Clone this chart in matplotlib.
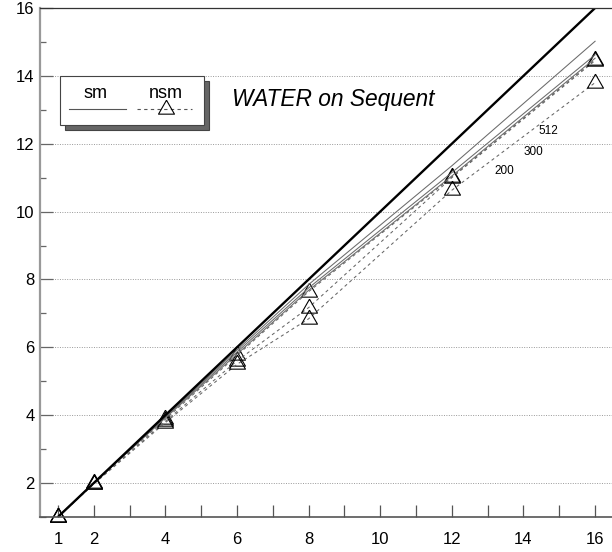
import matplotlib
matplotlib.use("Agg")
import matplotlib.pyplot as plt
from matplotlib.patches import Rectangle
from matplotlib.lines import Line2D

plt.rcParams['font.family'] = ['Liberation Sans', 'DejaVu Sans']

# Speedup of WATER on the Sequent, by number of processors
procs = [1, 2, 4, 6, 8, 12, 16]
ideal = [1, 16]

sm_512 = [1, 2, 3.96, 5.92, 7.85, 11.35, 15.02]
sm_300 = [1, 2, 3.94, 5.86, 7.75, 11.15, 14.62]
sm_200 = [1, 2, 3.92, 5.80, 7.68, 11.05, 14.52]

nsm_512 = [1, 2, 3.88, 5.76, 7.64, 11.02, 14.48]
nsm_300 = [1, 1.98, 3.82, 5.60, 7.17, 11.00, 14.45]
nsm_200 = [1, 1.97, 3.78, 5.50, 6.84, 10.63, 13.80]

size_labels = ["512", "300", "200"]
size_label_pos = [(14.69, 12.38), (14.27, 11.76), (13.46, 11.2)]

xtick_labels = [1, 2, 4, 6, 8, 10, 12, 14, 16]
ytick_labels = [2, 4, 6, 8, 10, 12, 14, 16]

W, H = 612, 552
fig = plt.figure(figsize=(W / 100, H / 100), dpi=100)
ax = fig.add_axes([40 / W, 1 - 517 / H, 573 / W, 509 / H])
ax.set_xlim(0.5, 16.5)
ax.set_ylim(1, 16)

# triangle whose origin sits at its centroid
tri = [(0, 9.33), (-8, -4.67), (8, -4.67), (0, 9.33)]
mk = dict(marker=tri, markersize=13.4, markerfacecolor='none',
          markeredgecolor='black', markeredgewidth=0.8)

for ys in (nsm_512, nsm_300, nsm_200):
    ax.plot(procs, ys, color='#666666', lw=0.75, ls=(0, (3, 3)),
            clip_on=False, **mk)
for ys in (sm_512, sm_300, sm_200):
    ax.plot(procs, ys, color='#6a6a6a', lw=0.75, ls='-')

ax.plot(ideal, ideal, color='black', lw=1.7, solid_capstyle='butt')

for lab, (x, y) in zip(size_labels, size_label_pos):
    ax.text(x, y, lab, fontsize=8.5, ha='center', va='center')

ax.text(5.86, 13.29, "WATER on Sequent", fontsize=16.4, style='italic',
        ha='left', va='center')

# grid
for y in ytick_labels[:-1]:
    ax.axhline(y, color='#999999', lw=0.7, ls=(0, (1, 1.5)), zorder=0)

# ticks
ax.set_xticks(range(1, 17), minor=True)
ax.set_xticks(xtick_labels)
ax.set_xticklabels([str(v) for v in xtick_labels])
ax.set_yticks(ytick_labels)
ax.set_yticklabels([str(v) for v in ytick_labels])
ax.set_yticks(range(1, 17), minor=True)
ax.tick_params(axis='x', which='both', direction='in', length=8.6,
               width=0.9, color='#555555', labelsize=12, pad=10.5)
ax.tick_params(axis='y', which='major', direction='in', length=9.4,
               width=0.9, color='#666666', labelsize=12, pad=4)
ax.tick_params(axis='y', which='minor', direction='in', length=4.3,
               width=0.9, color='#666666')

ax.spines['right'].set_visible(False)
ax.spines['top'].set_color('#333333')
ax.spines['top'].set_linewidth(0.9)
ax.spines['left'].set_color('#999999')
ax.spines['left'].set_linewidth(1.6)
ax.spines['bottom'].set_color('#555555')
ax.spines['bottom'].set_linewidth(1.2)

# legend box with drop shadow (positions in axes fractions)
AW, AH = 573, 509


def fx(px):
    return (px - 40) / AW


def fy(py):
    return (517 - py) / AH


bx0, bx1 = fx(60), fx(204)
by0, by1 = fy(125), fy(76)
dx, dy = 5 / AW, -5 / AH
ax.add_patch(Rectangle((bx0 + dx, by0 + dy), bx1 - bx0, by1 - by0,
                       transform=ax.transAxes, facecolor='#666666',
                       edgecolor='#444444', lw=0.8, zorder=5))
ax.add_patch(Rectangle((bx0, by0), bx1 - bx0, by1 - by0,
                       transform=ax.transAxes, facecolor='white',
                       edgecolor='#444444', lw=0.8, zorder=6))
ly, ty = fy(109), fy(93)
ax.text(fx(96), ty, "sm", transform=ax.transAxes,
        fontsize=13, ha='center', va='center', zorder=7)
ax.text(fx(166), ty, "nsm", transform=ax.transAxes,
        fontsize=13, ha='center', va='center', zorder=7)
ax.add_line(Line2D([fx(69), fx(126)], [ly, ly], transform=ax.transAxes,
                   color='#555555', lw=0.8, zorder=7))
ax.add_line(Line2D([fx(137), fx(192)], [ly, ly], transform=ax.transAxes,
                   color='#555555', lw=0.8, ls=(0, (3, 3)), zorder=7))
ax.add_line(Line2D([fx(166)], [ly], transform=ax.transAxes,
                   ls='none', zorder=8, **mk))

fig.savefig("out.png", dpi=100)
